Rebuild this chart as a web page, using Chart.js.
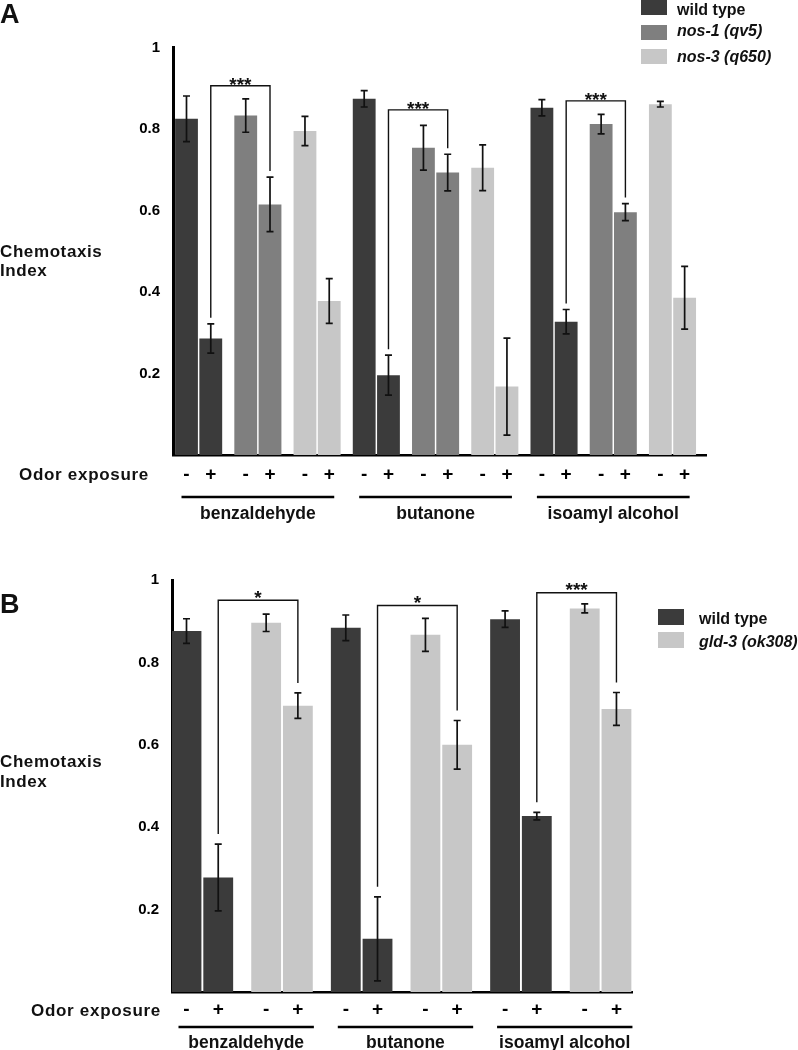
<!DOCTYPE html>
<html><head><meta charset="utf-8">
<script src="https://cdn.jsdelivr.net/npm/chart.js@4.4.0/dist/chart.umd.min.js"></script>
<style>
html,body{margin:0;padding:0;background:#fff;}
body{width:798px;height:1050px;position:relative;overflow:hidden;font-family:"Liberation Sans",Arial,Helvetica,sans-serif;font-weight:bold;color:#111;}
.abs{position:absolute;white-space:nowrap;line-height:1;}
.panel{font-size:27px;}
.ylab{font-size:17px;letter-spacing:0.6px;}
.odor{font-size:17px;letter-spacing:0.7px;}
.lg{font-size:16px;}
.it{font-style:italic;}
.sw{position:absolute;width:26px;}
canvas{position:absolute;left:0;}
</style></head>
<body>
<canvas id="chartA" width="798" height="530" style="top:0"></canvas>
<canvas id="chartB" width="798" height="510" style="top:540px"></canvas>

<div class="abs panel" style="left:0;top:1px">A</div>
<div class="abs panel" style="left:0;top:591px">B</div>
<div class="abs ylab" style="left:0;top:242.5px">Chemotaxis</div>
<div class="abs ylab" style="left:0;top:262px">Index</div>
<div class="abs ylab" style="left:0;top:753px">Chemotaxis</div>
<div class="abs ylab" style="left:0;top:773px">Index</div>
<div class="abs odor" style="left:19px;top:466px">Odor exposure</div>
<div class="abs odor" style="left:31px;top:1002px">Odor exposure</div>
<div id="legendA"></div>
<div id="legendB"></div>

<script>
// ---------------- data ----------------
const odors = ['benzaldehyde', 'butanone', 'isoamyl alcohol'];
const signs = ['-', '+'];

// Panel A (values per genotype: bz-, bz+, bt-, bt+, ia-, ia+)
const genotypesA = ['wild type', 'nos-1 (qv5)', 'nos-3 (q650)'];
const wildTypeA = [0.825, 0.286, 0.874, 0.196, 0.852, 0.327];
const nos1A     = [0.833, 0.615, 0.754, 0.693, 0.812, 0.596];
const nos3A     = [0.795, 0.378, 0.705, 0.168, 0.861, 0.386];
const wildTypeErrA = [0.056, 0.036, 0.020, 0.049, 0.020, 0.030];
const nos1ErrA     = [0.041, 0.067, 0.055, 0.045, 0.024, 0.021];
const nos3ErrA     = [0.036, 0.055, 0.056, 0.119, 0.007, 0.077];
const bracketTopsA = [0.906, 0.847, 0.869];
const bracketLabelsA = ['***', '***', '***'];

// Panel B
const genotypesB = ['wild type', 'gld-3 (ok308)'];
const wildTypeB = [0.876, 0.278, 0.884, 0.129, 0.905, 0.427];
const gld3B     = [0.896, 0.695, 0.867, 0.600, 0.931, 0.687];
const wildTypeErrB = [0.030, 0.081, 0.031, 0.102, 0.020, 0.009];
const gld3ErrB     = [0.021, 0.031, 0.040, 0.059, 0.011, 0.040];
const bracketTopsB = [0.951, 0.938, 0.969];
const bracketLabelsB = ['*', '*', '***'];

const yTicks = [0.2, 0.4, 0.6, 0.8, 1];

// ---------------- styles ----------------
const DARK = '#3b3b3b', MID = '#7f7f7f', LIGHT = '#c7c7c7';
const colorsA = [DARK, MID, LIGHT];
const colorsB = [DARK, LIGHT];
const italicA = [false, true, true];
const italicB = [false, true];
const FAM = '"Liberation Sans", Arial, Helvetica, sans-serif';

// slot position of a bar: group (odor x genotype) spacing P, within-pair step 1
function xPos(pointIndex, g, nG, P) {
  const o = Math.floor(pointIndex / 2), s = pointIndex % 2;
  return (o * nG + g) * P + s;
}

function buildPanel(cfg) {
  const nG = cfg.genotypes.length;
  const ticks = [];
  for (let o = 0; o < odors.length; o++)
    for (let g = 0; g < nG; g++)
      for (let s = 0; s < 2; s++) ticks.push((o * nG + g) * cfg.P + s);

  const datasets = cfg.genotypes.map((name, g) => ({
    label: name,
    data: cfg.values[g].map((v, i) => ({ x: xPos(i, g, nG, cfg.P), y: v })),
    backgroundColor: cfg.colors[g],
    borderWidth: 0,
    grouped: false,
    categoryPercentage: 1,
    barPercentage: 0.94
  }));

  const overlay = {
    id: 'overlay',
    afterDatasetsDraw(chart) {
      const ctx = chart.ctx, ys = chart.scales.y, area = chart.chartArea;
      ctx.save();
      // error bars
      ctx.strokeStyle = '#111';
      ctx.lineWidth = 1.7;
      chart.data.datasets.forEach((ds, di) => {
        chart.getDatasetMeta(di).data.forEach((bar, i) => {
          const v = ds.data[i].y, e = cfg.errors[di][i];
          const yt = ys.getPixelForValue(v + e), yb = ys.getPixelForValue(v - e);
          ctx.beginPath();
          ctx.moveTo(bar.x, yt); ctx.lineTo(bar.x, yb);
          ctx.moveTo(bar.x - 3.5, yt); ctx.lineTo(bar.x + 3.5, yt);
          ctx.moveTo(bar.x - 3.5, yb); ctx.lineTo(bar.x + 3.5, yb);
          ctx.stroke();
        });
      });
      // significance brackets (wild type "+" vs mutant "+")
      ctx.lineWidth = 1.4;
      ctx.fillStyle = '#111';
      ctx.font = 'bold 19px ' + FAM;
      ctx.textAlign = 'center';
      ctx.textBaseline = 'alphabetic';
      odors.forEach((od, o) => {
        const pi = 2 * o + 1;
        const lb = chart.getDatasetMeta(0).data[pi];
        const rb = chart.getDatasetMeta(1).data[pi];
        const lTop = ys.getPixelForValue(cfg.values[0][pi] + cfg.errors[0][pi]) - cfg.gap;
        const rTop = ys.getPixelForValue(cfg.values[1][pi] + cfg.errors[1][pi]) - cfg.gap;
        const top = ys.getPixelForValue(cfg.bracketTops[o]);
        ctx.beginPath();
        ctx.moveTo(lb.x, lTop); ctx.lineTo(lb.x, top); ctx.lineTo(rb.x, top); ctx.lineTo(rb.x, rTop);
        ctx.stroke();
        ctx.fillText(cfg.bracketLabels[o], (lb.x + rb.x) / 2, top + cfg.starOff);
      });
      // odor group underlines and names
      ctx.lineWidth = 2.5;
      ctx.strokeStyle = '#000';
      ctx.font = 'bold 17.5px ' + FAM;
      odors.forEach((od, o) => {
        const first = chart.getDatasetMeta(0).data[2 * o];
        const last = chart.getDatasetMeta(nG - 1).data[2 * o + 1];
        const x0 = first.x - cfg.insetL, x1 = last.x + cfg.insetR;
        const ly = area.bottom + cfg.lineOff;
        ctx.beginPath(); ctx.moveTo(x0, ly); ctx.lineTo(x1, ly); ctx.stroke();
        ctx.fillText(od, (x0 + x1) / 2, area.bottom + cfg.textOff);
      });
      ctx.restore();
    }
  };

  return new Chart(document.getElementById(cfg.canvas), {
    type: 'bar',
    data: { datasets },
    options: {
      responsive: false,
      animation: false,
      devicePixelRatio: 1,
      layout: { padding: { top: cfg.padTop, right: cfg.padRight, bottom: 0, left: 0 } },
      plugins: { legend: { display: false }, tooltip: { enabled: false } },
      scales: {
        x: {
          type: 'linear', min: cfg.xmin, max: cfg.xmax, offset: false, bounds: 'data',
          grid: { display: false, drawTicks: false, offset: false },
          border: { display: true, color: '#000', width: 2.5 },
          afterBuildTicks: ax => { ax.ticks = ticks.map(v => ({ value: v })); },
          afterFit: ax => { ax.height = cfg.xHeight; ax.paddingLeft = 0; ax.paddingRight = 0; },
          ticks: {
            autoSkip: false, maxRotation: 0, minRotation: 0, padding: cfg.xPad,
            color: '#000', font: { family: FAM, size: 19, weight: 'bold' },
            callback: (v, i) => signs[i % 2]
          }
        },
        y: {
          min: 0, max: 1,
          grid: { display: false, drawTicks: false },
          border: { display: true, color: '#000', width: 3 },
          afterBuildTicks: ax => { ax.ticks = [0].concat(yTicks).map(v => ({ value: v })); },
          afterFit: ax => { ax.width = cfg.yWidth; },
          ticks: {
            padding: 13, color: '#000', font: { family: FAM, size: 15, weight: 'bold' },
            callback: v => (v === 0 ? '' : String(Math.round(v * 10) / 10))
          }
        }
      }
    },
    plugins: [overlay]
  });
}

function buildLegend(id, names, colors, italics, boxX, boxTops, boxH, textX, textTops) {
  const el = document.getElementById(id);
  names.forEach((n, i) => {
    const sw = document.createElement('div');
    sw.className = 'sw';
    sw.style.left = boxX + 'px'; sw.style.top = boxTops[i] + 'px';
    sw.style.height = boxH + 'px'; sw.style.background = colors[i];
    el.appendChild(sw);
    const t = document.createElement('div');
    t.className = 'abs lg' + (italics[i] ? ' it' : '');
    t.style.left = textX + 'px'; t.style.top = textTops[i] + 'px';
    t.textContent = n;
    el.appendChild(t);
  });
}

buildPanel({
  canvas: 'chartA', genotypes: genotypesA, colors: colorsA,
  values: [wildTypeA, nos1A, nos3A], errors: [wildTypeErrA, nos1ErrA, nos3ErrA],
  bracketTops: bracketTopsA, bracketLabels: bracketLabelsA,
  P: 2.44, xmin: -0.556, xmax: 21.40, padTop: 47.5, padRight: 92, xHeight: 75, yWidth: 173,
  xPad: 8, gap: 6, starOff: 5.5, insetL: 5, insetR: 5, lineOff: 42, textOff: 64
});
buildPanel({
  canvas: 'chartB', genotypes: genotypesB, colors: colorsB,
  values: [wildTypeB, gld3B], errors: [wildTypeErrB, gld3ErrB],
  bracketTops: bracketTopsB, bracketLabels: bracketLabelsB,
  P: 2.51, xmin: -0.457, xmax: 14.04, padTop: 40, padRight: 166, xHeight: 58, yWidth: 172,
  xPad: 6, gap: 10, starOff: 3.5, insetL: 8, insetR: 16, lineOff: 35, textOff: 55.5
});
buildLegend('legendA', genotypesA, colorsA, italicA, 641, [0, 25, 49], 15, 677, [1.5, 23.2, 49.2]);
buildLegend('legendB', genotypesB, colorsB, italicB, 658, [609, 632], 16, 699, [610.8, 633.8]);
</script>
</body></html>
